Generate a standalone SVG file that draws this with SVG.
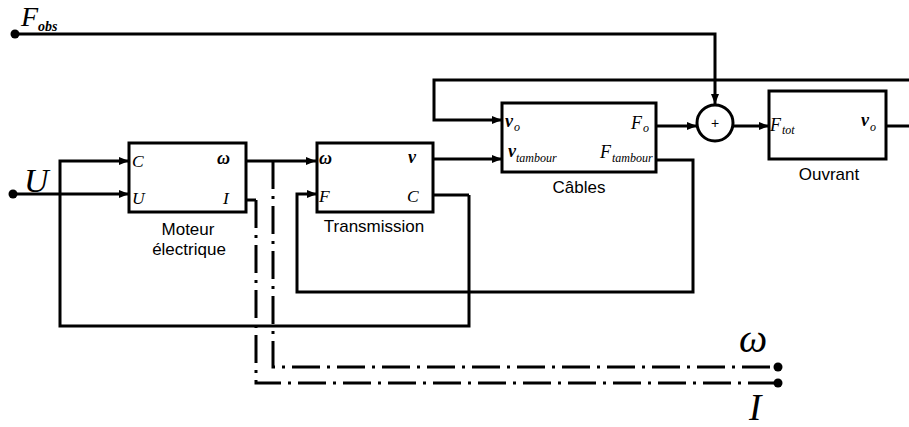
<svg xmlns="http://www.w3.org/2000/svg" width="909" height="427" viewBox="0 0 909 427">
<style>
.box{fill:#fff;stroke:#000;stroke-width:3}
.w{fill:none;stroke:#000;stroke-width:3;stroke-linejoin:miter}
.dd{fill:none;stroke:#000;stroke-width:3;stroke-dasharray:28 7 3 7}
.lbl{font-family:"Liberation Sans",Arial,sans-serif;font-size:17px;fill:#000;text-anchor:middle}
.m{font-family:"Liberation Serif","Times New Roman",serif;font-style:italic;fill:#000}
.b{font-weight:bold}
</style>
<defs>
<marker id="ar" markerUnits="userSpaceOnUse" markerWidth="11" markerHeight="9" refX="10" refY="4" orient="auto">
<path d="M0,0 L10,4 L0,8 z" fill="#000"/>
</marker>
</defs>
<g id="connectors">
<path class="w" d="M15,34 H715 V104" marker-end="url(#ar)"/>
<path class="w" d="M13,194 H129" marker-end="url(#ar)"/>
<path class="w" d="M469,195 V326 H60 V161 H129" marker-end="url(#ar)"/>
<path class="w" d="M433,195 H469"/>
<path class="w" d="M246,161 H316" marker-end="url(#ar)"/>
<path class="w" d="M246,200 H256"/>
<path class="dd" d="M256,200 V383 H778"/>
<path class="dd" d="M273,161 V367 H778"/>
<path class="w" d="M433,159 H502" marker-end="url(#ar)"/>
<path class="w" d="M656,160 H693 V292 H297 V194 H317" marker-end="url(#ar)"/>
<path class="w" d="M909,80 H434 V120 H502" marker-end="url(#ar)"/>
<path class="w" d="M656,126 H697" marker-end="url(#ar)"/>
<path class="w" d="M733,126 H769" marker-end="url(#ar)"/>
<path class="w" d="M886,126 H909"/>
<circle cx="15" cy="34" r="4.5" fill="#000"/>
<circle cx="13" cy="194" r="4.5" fill="#000"/>
<circle cx="778" cy="367" r="4.5" fill="#000"/>
<circle cx="778" cy="383" r="4.5" fill="#000"/>
</g>
<g id="Fobs-label">
<text class="m" x="21" y="26" font-size="28">F</text>
<text class="m b" x="38" y="31" font-size="14">obs</text>
</g>
<g id="U-label"><text class="m" x="24" y="192" font-size="34">U</text></g>
<g id="omega-label"><text class="m" x="739" y="352" font-size="40">ω</text></g>
<g id="I-label"><text class="m" x="749" y="420" font-size="37">I</text></g>
<g id="moteur">
<rect class="box" x="129" y="143" width="117" height="69"/>
<text class="m" x="132" y="167" font-size="17.5">C</text>
<text class="m" x="132" y="204" font-size="17.5">U</text>
<text class="m b" x="217" y="164" font-size="18">ω</text>
<text class="m" x="223" y="204" font-size="17.5">I</text>
<text class="lbl" x="188" y="235">Moteur</text>
<text class="lbl" x="189" y="255">électrique</text>
</g>
<g id="transmission">
<rect class="box" x="317" y="143" width="116" height="69"/>
<text class="m b" x="319" y="164" font-size="18">ω</text>
<text class="m" x="319" y="202" font-size="17.5">F</text>
<text class="m b" x="408" y="163" font-size="18">v</text>
<text class="m" x="407" y="202" font-size="17.5">C</text>
<text class="lbl" x="374" y="232">Transmission</text>
</g>
<g id="cables">
<rect class="box" x="502" y="103" width="154" height="69"/>
<text class="m b" x="505" y="127" font-size="18">v</text>
<text class="m" x="514" y="131" font-size="12">o</text>
<text class="m b" x="508" y="157" font-size="18">v</text>
<text class="m" x="516" y="162" font-size="12">tambour</text>
<text class="m" x="631" y="129" font-size="18">F</text>
<text class="m" x="643" y="132" font-size="12">o</text>
<text class="m" x="600" y="158" font-size="18">F</text>
<text class="m" x="612" y="162" font-size="12">tambour</text>
<text class="lbl" x="579" y="193">Câbles</text>
</g>
<g id="sum">
<circle cx="715" cy="123" r="18" fill="#fff" stroke="#000" stroke-width="3"/>
<text x="715" y="128" font-family="'Liberation Sans',Arial,sans-serif" font-size="14" text-anchor="middle">+</text>
</g>
<g id="ouvrant">
<rect class="box" x="769" y="91" width="117" height="68"/>
<text class="m" x="770" y="131" font-size="18">F</text>
<text class="m" x="782" y="134" font-size="12">tot</text>
<text class="m b" x="861" y="126" font-size="18">v</text>
<text class="m" x="870" y="131" font-size="12">o</text>
<text class="lbl" x="829" y="180">Ouvrant</text>
</g>
</svg>
